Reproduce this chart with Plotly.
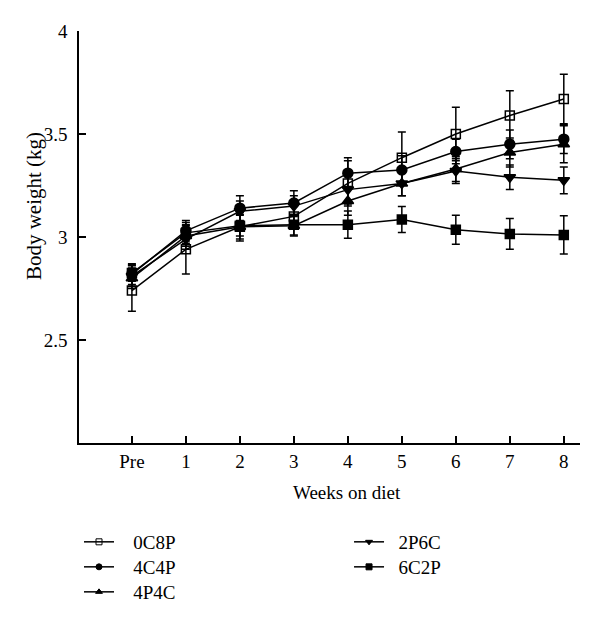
import plotly.graph_objects as go

weeks = [0, 1, 2, 3, 4, 5, 6, 7, 8]
week_labels = ["Pre", "1", "2", "3", "4", "5", "6", "7", "8"]

# mean body weight (kg) per diet group
w_0C8P = [2.74, 2.94, 3.05, 3.10, 3.26, 3.385, 3.50, 3.59, 3.67]
w_4C4P = [2.82, 3.03, 3.14, 3.165, 3.31, 3.325, 3.415, 3.45, 3.475]
w_4P4C = [2.80, 3.005, 3.05, 3.055, 3.175, 3.26, 3.33, 3.41, 3.45]
w_2P6C = [2.81, 2.99, 3.125, 3.15, 3.23, 3.26, 3.32, 3.29, 3.275]
w_6C2P = [2.825, 3.02, 3.055, 3.06, 3.06, 3.085, 3.035, 3.015, 3.01]

# error bars (kg)
e_0C8P = [0.10, 0.12, 0.07, 0.06, 0.11, 0.125, 0.13, 0.12, 0.12]
e_4C4P = [0.05, 0.05, 0.06, 0.06, 0.075, 0.07, 0.06, 0.07, 0.07]
e_4P4C = [0.05, 0.05, 0.06, 0.05, 0.07, 0.06, 0.06, 0.07, 0.09]
e_2P6C = [0.05, 0.05, 0.05, 0.05, 0.07, 0.06, 0.06, 0.06, 0.065]
e_6C2P = [0.04, 0.05, 0.05, 0.05, 0.066, 0.063, 0.07, 0.075, 0.093]

FONT = "Liberation Serif"
NB = "\u00a0"

# name, data, errors, symbol, size, legend id, legend x (paper), legend y (container), label pad
series = [
    ("0C8P", w_0C8P, e_0C8P, "square-open", 9, "legend", 0.0, 0.1203, 3),
    ("4C4P", w_4C4P, e_4C4P, "circle", 10, "legend2", 0.0, 0.0791, 3),
    ("4P4C", w_4P4C, e_4P4C, "triangle-up", 10, "legend3", 0.0, 0.0379, 3),
    ("2P6C", w_2P6C, e_2P6C, "triangle-down", 10, "legend4", 0.539, 0.1203, 2),
    ("6C2P", w_6C2P, e_6C2P, "square", 9, "legend5", 0.539, 0.0791, 2),
]

fig = go.Figure()
legends = {}
for name, ys, es, sym, sz, leg, lx, ly, pad in series:
    fig.add_trace(go.Scatter(
        x=weeks, y=ys, name=name, mode="lines+markers",
        line=dict(color="black", width=1.5),
        marker=dict(symbol=sym, size=sz, color="black",
                    line=dict(color="black", width=1.5)),
        error_y=dict(type="data", array=es, color="black", thickness=1.5, width=4),
        showlegend=False,
    ))
    # legend-only entry with smaller marker, like the original key
    fig.add_trace(go.Scatter(
        x=[None], y=[None], name=NB * pad + name, mode="lines+markers",
        line=dict(color="black", width=1.5),
        marker=dict(symbol=sym, size=6, color="black",
                    line=dict(color="black", width=1)),
        legend=leg,
    ))
    legends[leg] = dict(x=lx, y=ly, xref="paper", yref="container",
                        xanchor="left", yanchor="middle",
                        font=dict(size=19), itemwidth=30,
                        bgcolor="rgba(0,0,0,0)")

# page body has an 8px margin, so the figure is smaller than the window
fig.update_layout(
    width=584, height=607,
    margin=dict(l=71, r=12, t=23, b=172),
    plot_bgcolor="white", paper_bgcolor="white",
    font=dict(family=FONT, size=19, color="black"),
    **legends,
)
fig.update_xaxes(
    range=[-0.98, 8.3], tickvals=weeks, ticktext=week_labels,
    showline=True, linecolor="black", linewidth=1.5,
    ticks="inside", ticklen=7, tickcolor="black", tickwidth=1.5,
    showgrid=False, zeroline=False, automargin=False,
    tickfont=dict(size=19), ticklabelstandoff=0,
)
fig.update_yaxes(
    range=[2, 4], tickvals=[2.5, 3, 3.5, 4],
    showline=True, linecolor="black", linewidth=1.5,
    ticks="inside", ticklen=7, tickcolor="black", tickwidth=1.5,
    showgrid=False, zeroline=False, automargin=False,
    tickfont=dict(size=19), ticklabelstandoff=6,
)
fig.add_annotation(text="Weeks on diet", xref="paper", yref="paper",
                   x=0.535, y=-0.119, xanchor="center", yanchor="middle",
                   showarrow=False, font=dict(size=19))
fig.add_annotation(text="Body weight (kg)", xref="paper", yref="paper",
                   x=-0.0898, y=0.575, xanchor="center", yanchor="middle",
                   textangle=-90, showarrow=False, font=dict(size=21))

fig.write_html("out.html")
